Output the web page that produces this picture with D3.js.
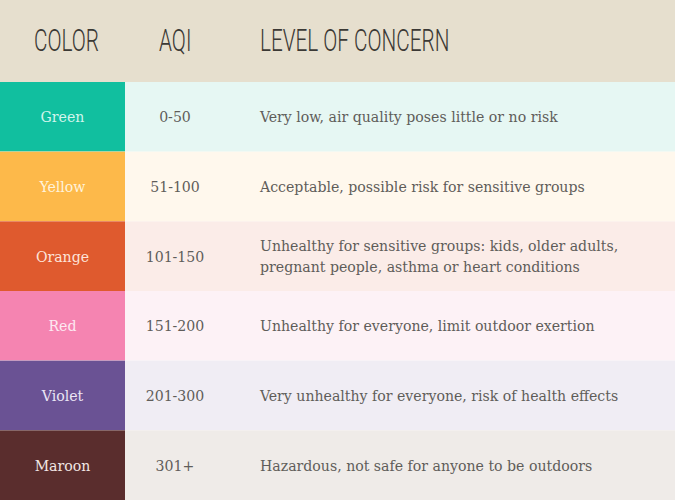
<!DOCTYPE html>
<html>
<head>
<meta charset="utf-8">
<script src="https://cdn.jsdelivr.net/npm/d3@7"></script>
<style>
  html, body { margin: 0; padding: 0; background: #fff; }
  svg { display: block; }
</style>
</head>
<body>
<div id="aqi_table"></div>
<script>
// table content
const headers = ["COLOR", "AQI", "LEVEL OF CONCERN"];
const levels = ["Green", "Yellow", "Orange", "Red", "Violet", "Maroon"];
const aqiRanges = ["0-50", "51-100", "101-150", "151-200", "201-300", "301+"];
const concerns = [
    ["Very low, air quality poses little or no risk"],
    ["Acceptable, possible risk for sensitive groups"],
    ["Unhealthy for sensitive groups: kids, older adults,", "pregnant people, asthma or heart conditions"],
    ["Unhealthy for everyone, limit outdoor exertion"],
    ["Very unhealthy for everyone, risk of health effects"],
    ["Hazardous, not safe for anyone to be outdoors"]
];

// styling per level: swatch, row tint, swatch label
const palette = {
    Green:  {swatch: "#11bf9f", tint: "#e6f7f3", label: "#d2f5ec"},
    Yellow: {swatch: "#fdb94a", tint: "#fff8ed", label: "#fff3dc"},
    Orange: {swatch: "#df5a2e", tint: "#fbece8", label: "#fde3d9"},
    Red:    {swatch: "#f584b1", tint: "#fdf2f6", label: "#fde9f1"},
    Violet: {swatch: "#6a5294", tint: "#f0edf4", label: "#ece6f5"},
    Maroon: {swatch: "#5a2d2d", tint: "#efebe8", label: "#f1e6e4"}
};

const W = 675, H = 500;
const head = {h: 82, bg: "#e6dfce", fill: "#3b3935"};
const cols = {swatchW: 125, colorX: 62.5, aqiX: 175, concernX: 260};
const headX = [34, 159, 260];
const narrow = 0.68;   // squeeze factor to fake a condensed header face
const lineGap = 21.5;

let svg = d3.select("#aqi_table")
    .append("svg")
    .attr("width", W)
    .attr("height", H)
    .attr("viewBox", `0 0 ${W} ${H}`);

/* Header */
svg.append("rect")
    .attr("width", W)
    .attr("height", head.h)
    .attr("fill", head.bg);

svg.append("g")
    .selectAll("text")
    .data(headers)
    .join("text")
    .attr("transform", (d, i) => `translate(${headX[i]}, 51) scale(${narrow}, 1)`)
    .style("font-family", "Roboto, 'Liberation Sans', sans-serif")
    .style("font-weight", 300)
    .style("font-size", "30.5px")
    .attr("fill", head.fill)
    .text(d => d);

/* Rows */
let y = d3.scaleBand()
    .domain(levels)
    .range([head.h, H])
    .padding(0);

let rows = svg.append("g")
    .selectAll("g")
    .data(levels)
    .join("g")
    .attr("transform", d => `translate(0, ${y(d)})`);

rows.append("rect")
    .attr("width", W)
    .attr("height", y.bandwidth())
    .attr("fill", d => palette[d].tint);

rows.append("rect")
    .attr("width", cols.swatchW)
    .attr("height", y.bandwidth())
    .attr("fill", d => palette[d].swatch);

const bodyFont = "'DejaVu Serif Condensed', 'DejaVu Serif', serif";
const bodySize = "15.7px";
const bodyFill = "#5f5d5a";
const mid = y.bandwidth() / 2 + 5.5;

rows.append("text")
    .attr("x", cols.colorX)
    .attr("y", mid)
    .attr("text-anchor", "middle")
    .style("font-family", bodyFont)
    .style("font-size", bodySize)
    .attr("fill", d => palette[d].label)
    .text(d => d);

rows.append("text")
    .attr("x", cols.aqiX)
    .attr("y", mid)
    .attr("text-anchor", "middle")
    .style("font-family", bodyFont)
    .style("font-size", bodySize)
    .attr("fill", bodyFill)
    .text((d, i) => aqiRanges[i]);

rows.append("text")
    .attr("x", cols.concernX)
    .attr("y", (d, i) => mid - (concerns[i].length - 1) * lineGap / 2)
    .style("font-family", bodyFont)
    .style("font-size", bodySize)
    .attr("fill", bodyFill)
    .selectAll("tspan")
    .data((d, i) => concerns[i])
    .join("tspan")
    .attr("x", cols.concernX)
    .attr("dy", (d, j) => j === 0 ? 0 : lineGap)
    .text(d => d);
</script>
</body>
</html>
